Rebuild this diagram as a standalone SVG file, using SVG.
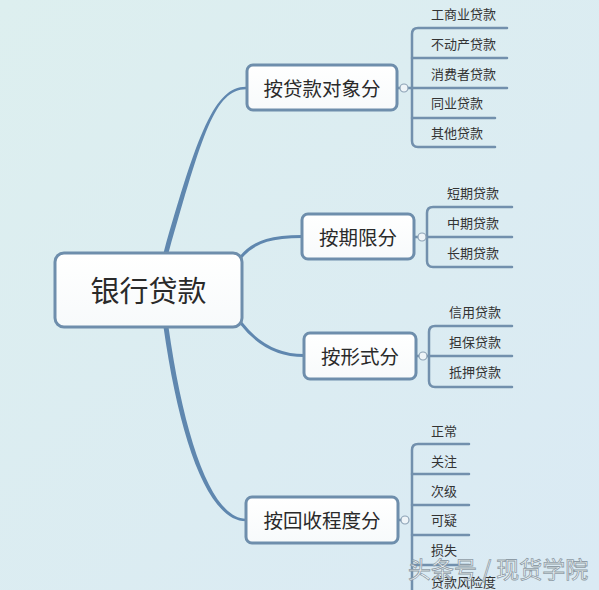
<svg xmlns="http://www.w3.org/2000/svg" width="599" height="590" viewBox="0 0 599 590">
<defs>
<linearGradient id="bg" x1="0" y1="0" x2="1" y2="1">
<stop offset="0" stop-color="#DDEFEF"/>
<stop offset="1" stop-color="#DAEAF4"/>
</linearGradient>
<linearGradient id="nodefill" x1="0" y1="0" x2="0" y2="1">
<stop offset="0" stop-color="#FFFFFF"/>
<stop offset="1" stop-color="#F7FAFB"/>
</linearGradient>
<style>
.node{fill:url(#nodefill);stroke:#6E8EAC;stroke-width:3}
.main{font-family:"Noto Sans CJK SC","Liberation Sans",sans-serif;font-size:29px;fill:#2A2A2A;text-anchor:middle;dominant-baseline:central}
.sub{font-family:"Noto Sans CJK SC","Liberation Sans",sans-serif;font-size:19.5px;fill:#2A2A2A;text-anchor:middle;dominant-baseline:central}
.leaf{font-family:"Noto Sans CJK SC","Liberation Sans",sans-serif;font-size:13px;fill:#333;dominant-baseline:central}
.br{fill:none;stroke:#7290AD;stroke-width:2.5;stroke-linecap:round}
.conn{fill:#5F87AF}
.connl{fill:none;stroke:#5F87AF;stroke-linecap:round}
.knob{fill:#EEF4F8;stroke:#8EA3B6;stroke-width:1.2}
.wm{font-family:"Noto Sans CJK SC","Liberation Sans",sans-serif;font-size:23px;fill:#FFFFFF;fill-opacity:0.8;stroke:#8E9CA6;stroke-width:0.8}
</style>
</defs>
<rect width="599" height="590" fill="url(#bg)"/>

<g id="connectors">
<path class="conn" d="M163.5,253 C197.5,133 215,86.5 246,86.8 L246,89.2 C215,89.5 202.5,133.5 168.5,253 Z"/>
<path class="conn" d="M163.5,327 C179.5,440 208,521.3 246,521.3 L246,518.7 C212,518.7 184.5,440 168.5,327 Z"/>
<path class="connl" stroke-width="3" d="M241,257 C255,240 275,236.5 302,236.5"/>
<path class="connl" stroke-width="3" d="M241,323 C258,345 280,355.5 304,355.5"/>
<line x1="397" y1="88" x2="400" y2="88" class="br" stroke-width="1.5"/>
<path class="br" d="M507,28 H418 Q412,28 412,34 V141 Q412,147 418,147 H495"/>
<path class="br" d="M412,58 H507 M408,88 H507 M412,118 H495"/>
<line x1="414" y1="237" x2="418" y2="237" class="br" stroke-width="1.5"/>
<path class="br" d="M512,207 H433 Q427,207 427,213 V261 Q427,267 433,267 H512"/>
<path class="br" d="M426,237 H512"/>
<line x1="416" y1="356" x2="419" y2="356" class="br" stroke-width="1.5"/>
<path class="br" d="M512,326 H435 Q429,326 429,332 V381 Q429,387 435,387 H512"/>
<path class="br" d="M427,356 H512"/>
<line x1="398" y1="520" x2="401" y2="520" class="br" stroke-width="1.5"/>
<path class="br" d="M469,444 H418 Q412,444 412,450 V600"/>
<path class="br" d="M412,474 H469 M412,505 H469 M412,535 H469 M412,565 H469"/>
</g>

<g id="n-root">
<rect class="node" x="55" y="253" width="187" height="74" rx="9"/>
<text class="main" x="148.5" y="289">银行贷款</text>
</g>

<g id="n-b1">
<rect class="node" x="247" y="65" width="150" height="45" rx="6"/>
<text class="sub" x="322" y="87">按贷款对象分</text>
<circle class="knob" cx="404" cy="88" r="4"/>
</g>
<g id="n-b2">
<rect class="node" x="302" y="214" width="112" height="45" rx="6"/>
<text class="sub" x="358" y="236">按期限分</text>
<circle class="knob" cx="422" cy="237" r="4"/>
</g>
<g id="n-b3">
<rect class="node" x="304" y="333" width="112" height="46" rx="6"/>
<text class="sub" x="360" y="355.5">按形式分</text>
<circle class="knob" cx="423" cy="356" r="4"/>
</g>
<g id="n-b4">
<rect class="node" x="246" y="497" width="152" height="46" rx="6"/>
<text class="sub" x="322" y="519.5">按回收程度分</text>
<circle class="knob" cx="405" cy="520" r="4"/>
</g>

<g id="leaves-b1">
<text class="leaf" x="431" y="13.5">工商业贷款</text>
<text class="leaf" x="431" y="43.5">不动产贷款</text>
<text class="leaf" x="431" y="73.5">消费者贷款</text>
<text class="leaf" x="431" y="102.5">同业贷款</text>
<text class="leaf" x="431" y="132.5">其他贷款</text>
</g>
<g id="leaves-b2">
<text class="leaf" x="447" y="192.5">短期贷款</text>
<text class="leaf" x="447" y="222.5">中期贷款</text>
<text class="leaf" x="447" y="252.5">长期贷款</text>
</g>
<g id="leaves-b3">
<text class="leaf" x="449" y="311.5">信用贷款</text>
<text class="leaf" x="449" y="341.5">担保贷款</text>
<text class="leaf" x="449" y="371.5">抵押贷款</text>
</g>
<g id="leaves-b4">
<text class="leaf" x="431" y="430.5">正常</text>
<text class="leaf" x="431" y="460.5">关注</text>
<text class="leaf" x="431" y="490.5">次级</text>
<text class="leaf" x="431" y="519.5">可疑</text>
<text class="leaf" x="431" y="549.5">损失</text>
<text class="leaf" x="431" y="581.5">贷款风险度</text>
</g>

<text class="wm" x="408" y="578">头条号 / 现货学院</text>
</svg>
